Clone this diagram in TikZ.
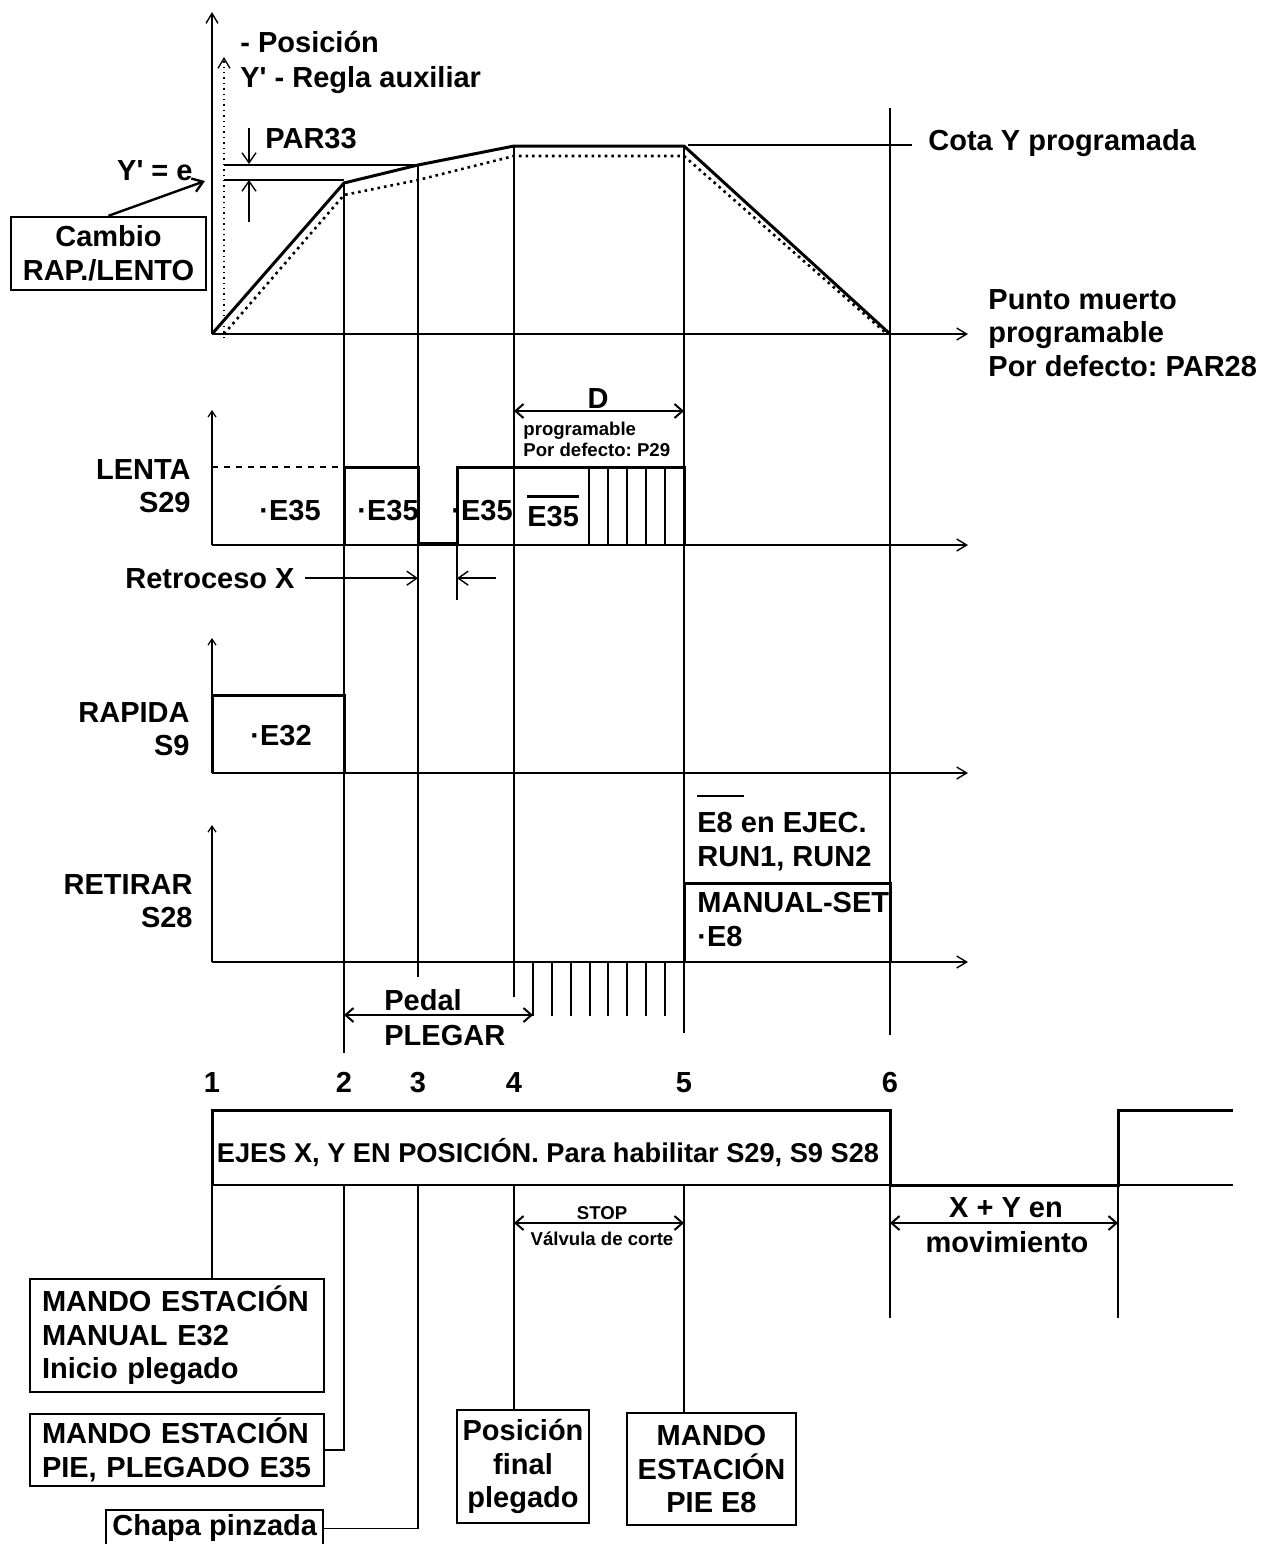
\documentclass[tikz,border=0pt]{standalone}
\usepackage{fontspec}
\setmainfont{Liberation Sans}
\usetikzlibrary{arrows.meta, positioning, calc}
\frenchspacing

\tikzset{
    lbl/.style={font=\bfseries\fontsize{14.5}{16.75}\selectfont, inner sep=0pt},
    smalllbl/.style={font=\bfseries\fontsize{9.3}{10.5}\selectfont, inner sep=0pt},
    axisarrow/.style={line width=0.7pt, -{Straight Barb[length=5pt,width=6pt]}},
    minoraxis/.style={line width=0.6pt, -{Straight Barb[length=3pt,width=4pt]}},
    guide/.style={line width=0.7pt},
    signal/.style={line width=1.5pt},
    dimarrow/.style={line width=1pt, {Straight Barb[length=4pt,width=7pt]}-{Straight Barb[length=4pt,width=7pt]}},
    ptr/.style={line width=0.7pt, -{Straight Barb[length=5pt,width=7pt]}},
    infobox/.style={draw, line width=1.2pt, font=\bfseries\fontsize{14.5}{16.75}\selectfont, inner ysep=0pt, inner xsep=6pt}
}

\begin{document}
\begin{tikzpicture}[x=0.5pt, y=-0.5pt]
    \useasboundingbox (0,0) rectangle (1274,1544);

    % position diagram
    \coordinate (o) at (212,334);
    \coordinate (p2) at (344,183);
    \coordinate (p3) at (418,165);
    \coordinate (p4) at (514,146);
    \coordinate (p5) at (684,146);
    \coordinate (p6) at (890,334);
    \coordinate (q1) at (224,334);
    \coordinate (q2) at (344,195);
    \coordinate (q3) at (418,180);
    \coordinate (q4) at (514,156);
    \coordinate (q5) at (684,156);
    \coordinate (q6) at (887,334);

    \draw[axisarrow] (o) -- (212,12);
    \draw[axisarrow, dotted] (224,338) -- (224,57);
    \draw[axisarrow] (o) -- (968,334);
    \draw[signal, line join=round] (o) -- (p2) -- (p3) -- (p4) -- (p5) -- (p6);
    \draw[line width=1.3pt, dotted] (q1) -- (q2) -- (q3) -- (q4) -- (q5) -- (q6);

    \node[lbl, anchor=base west] (posicion) at (240,52) {- Posición};
    \node[lbl, anchor=base west] (regla) at (240,87) {Y\textquotesingle{} - Regla auxiliar};

    % PAR33
    \draw[guide] (224,165) -- (p3);
    \draw[guide] (224,180) -- (344,180);
    \draw[ptr] (249,128) -- (249,164);
    \draw[ptr] (249,222) -- (249,180);
    \node[lbl, anchor=base west] (par) at (265,148) {PAR33};
    \node[lbl, anchor=base east] (ye) at (193,180) {Y\textquotesingle{} = e};
    \coordinate (yetip) at (205,181);
    \node[infobox, align=center, minimum width=96.5pt, minimum height=36.5pt] (cambio) at (108.5,253.5) {Cambio\\RAP./LENTO};
    \draw[ptr, line width=1.2pt] (cambio.north) -- (yetip);

    \node[lbl, anchor=base west] (cota) at (928,150) {Cota Y programada};
    \coordinate (cotaend) at (912,145);
    \draw[line width=1pt] (688,145) -- (cotaend);
    \node[lbl, anchor=north west, align=left] (punto) at (988,289) {Punto muerto\\programable\\Por defecto: PAR28};

    % event lines
    \draw[guide] (p2) -- (344,1053);
    \draw[guide] (p3) -- (418,977);
    \draw[guide] (p4) -- (514,997);
    \draw[guide] (p5) -- (684,1033);
    \draw[guide] (890,108) -- (890,1035);

    % LENTA S29
    \draw[minoraxis] (212,545) -- (212,410);
    \draw[axisarrow] (212,545) -- (968,545);
    \draw[guide, dashed] (212,467) -- (344,467);
    \draw[signal] (344,545) -- (344,467) -- (418,467) -- (418,543) -- (457,543) -- (457,467) -- (684,467) -- (684,545);
    \foreach \x in {589,608,627,646,665}
        \draw[guide] (\x,467) -- (\x,545);
    \node[lbl, anchor=north east, align=right] (lenta) at (191,459) {LENTA\\S29};
    \node[lbl, anchor=base west] (e35a) at (259,520) {·E35};
    \node[lbl, anchor=base west] (e35b) at (357,520) {·E35};
    \node[lbl, anchor=base west] (e35c) at (451,520) {·E35};
    \node[lbl, anchor=base west] (e35bar) at (527,526) {E35};
    \draw[line width=1.2pt] ([yshift=4.5pt]e35bar.north west) -- ([yshift=4.5pt]e35bar.north east);

    \coordinate (dl) at (514,411);
    \coordinate (dr) at (684,411);
    \draw[dimarrow] (dl) -- (dr);
    \node[lbl, anchor=base] (dlab) at (598,408) {D};
    \node[smalllbl, anchor=north west, align=left] (prog) at (523,422) {programable\\Por defecto: P29};

    \node[lbl, anchor=base east] (retro) at (295,588) {Retroceso X};
    \coordinate (rx1) at (418,581);
    \coordinate (rx2) at (457,581);
    \coordinate (rx3) at (496,581);
    \draw[ptr] ([xshift=5pt]retro.east) -- (retro.east -| rx1);
    \draw[ptr] (retro.east -| rx3) -- (retro.east -| rx2);
    \draw[guide] (457,543) -- (457,600);

    % RAPIDA S9
    \draw[minoraxis] (212,773) -- (212,638);
    \draw[axisarrow] (212,773) -- (968,773);
    \draw[signal] (212,773) -- (212,695) -- (344,695) -- (344,773);
    \node[lbl, anchor=north east, align=right] (rapida) at (190,702) {RAPIDA\\S9};
    \node[lbl, anchor=base west] (e32) at (250,745) {·E32};

    % RETIRAR S28
    \draw[minoraxis] (212,962) -- (212,825);
    \draw[axisarrow] (212,962) -- (968,962);
    \draw[signal] (684,962) -- (684,883) -- (890,883) -- (890,962);
    \foreach \x in {533,552,571,590,608,627,646,665}
        \draw[guide] (\x,962) -- (\x,1016);
    \node[lbl, anchor=north east, align=right] (retirar) at (193,874) {RETIRAR\\S28};
    \node[lbl, anchor=north west, align=left] (ejec) at (697,812) {E8 en EJEC.\\RUN1, RUN2};
    \draw[line width=1.2pt] ([yshift=8pt]ejec.north west) -- ++(47,0);
    \node[lbl, anchor=north west, align=left] (manset) at (697,892) {MANUAL-SET\\·E8};
    \draw[dimarrow] (344,1015) -- (533,1015);
    \node[lbl, anchor=north west, align=left] (pedal) at (384,989) {Pedal\\[1pt]PLEGAR};

    % EJES X, Y EN POSICION
    \coordinate (b1) at (212,1185);
    \coordinate (b2) at (344,1185);
    \coordinate (b3) at (418,1185);
    \coordinate (b4) at (514,1185);
    \coordinate (b5) at (684,1185);
    \coordinate (b6) at (890,1185);
    \coordinate (b7) at (1118,1185);
    \foreach \x/\n in {212/1,344/2,418/3,514/4,684/5,890/6}
        \node[lbl, anchor=base] (n\n) at (\x,1092) {\n};
    \draw[line width=1.2pt] (b1) -- (1233,1185);
    \draw[signal] (b1) -- (212,1110) -- (890,1110) -- (b6) -- (b7) -- (1118,1110) -- (1233,1110);
    \node[lbl, font=\bfseries\fontsize{13.6}{15}\selectfont, anchor=base] (ejes) at (548,1162) {EJES X, Y EN POSICIÓN. Para habilitar S29, S9 S28};
    \draw[dimarrow] (514,1223) -- (684,1223);
    \node[smalllbl, anchor=base] (stop) at (602,1219) {STOP};
    \node[smalllbl, anchor=base] (valv) at (602,1245) {Válvula de corte};
    \draw[dimarrow] (b6 |- 0,1223) -- (b7 |- 0,1223);
    \node[lbl, anchor=base] (xy) at (1006,1217) {X + Y en};
    \node[lbl, anchor=base] (mov) at (1007,1252) {movimiento};
    \draw[guide] (b6) -- (890,1318);
    \draw[guide] (b7) -- (1118,1318);

    % boxes
    \node[infobox, text width=135pt, align=left, minimum height=56.5pt] (mando1) at (177,1335.5) {MANDO ESTACIÓN\\MANUAL E32\\Inicio plegado};
    \node[infobox, text width=135pt, align=left, minimum height=36pt] (mando2) at (177,1450) {MANDO ESTACIÓN\\PIE, PLEGADO E35};
    \node[infobox, anchor=north west, minimum width=108.5pt, minimum height=18pt, inner xsep=3pt] (chapa) at (105,1509) {Chapa pinzada};
    \node[infobox, align=center, minimum width=66pt, minimum height=56.5pt, inner xsep=0pt] (posfin) at (523,1466.5) {Posición\\final\\plegado};
    \node[infobox, align=center, minimum width=84.5pt, minimum height=56pt, inner xsep=0pt] (mando5) at (711.5,1469) {MANDO\\ESTACIÓN\\PIE E8};
    \draw[line width=1.2pt] (b1) -- (b1 |- mando1.north);
    \draw[guide] (b2) |- (mando2.east);
    \draw[guide] (b3) |- (chapa.east);
    \draw[guide] (b4) -- (b4 |- posfin.north);
    \draw[guide] (b5) -- (b5 |- mando5.north);
\end{tikzpicture}
\end{document}
